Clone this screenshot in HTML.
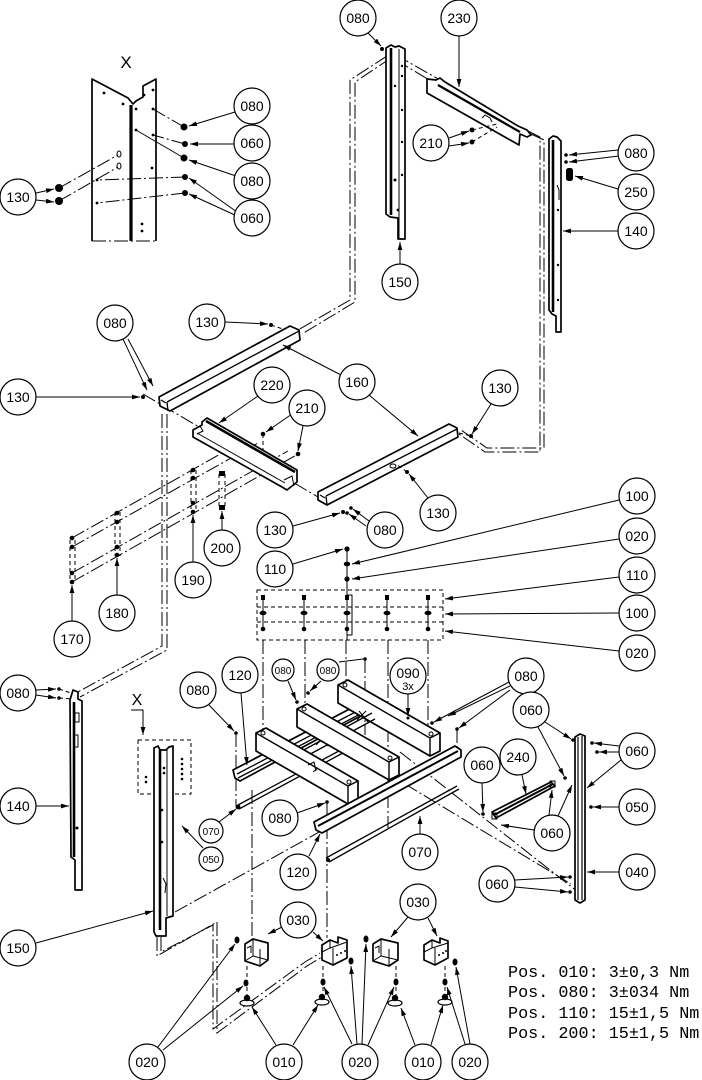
<!DOCTYPE html>
<html><head><meta charset="utf-8">
<style>
html,body{margin:0;padding:0;background:#fff}
svg{display:block}
.l{stroke:#000;stroke-width:1;fill:none;marker-end:url(#a)}
.t{stroke:#000;stroke-width:1;fill:none}
.dd{stroke:#000;stroke-width:1;fill:none;stroke-dasharray:14 3 2 3}
.ds{stroke:#000;stroke-width:1;fill:none;stroke-dasharray:4 3}
.p{stroke:#000;stroke-width:1.7;fill:#fff;stroke-linejoin:round}
.k{stroke:#000;stroke-width:2.6;fill:none}
.b{fill:#fff;stroke:#000;stroke-width:1.2}
.f{fill:#000;stroke:none}
text{font-family:"Liberation Sans",sans-serif;font-size:14px;text-anchor:middle;fill:#000}
.s{font-size:10px}
.m{font-family:"Liberation Mono",monospace;font-size:16.8px;text-anchor:start}
</style></head><body>
<svg xmlns="http://www.w3.org/2000/svg" width="702" height="1080" viewBox="0 0 702 1080">
<defs>
<marker id="a" viewBox="0 0 10 6" refX="10" refY="3" markerWidth="8" markerHeight="5" orient="auto" markerUnits="userSpaceOnUse"><path d="M0,0 L10,3 L0,6z" fill="#000"/></marker>
</defs>
<rect width="702" height="1080" fill="#fff"/>

<!-- ===== TOP-LEFT DETAIL X ===== -->
<text x="126" y="68" style="font-size:17px">X</text>
<path class="p" d="M92,241 V79 L128,98 L133,104 L136,101 L143,97 L143,86 L156,79 V241" style="fill:#fff"/>
<line class="k" x1="131" y1="105" x2="131" y2="241" style="stroke-width:3.2"/>
<line class="dd" x1="92" y1="241" x2="156" y2="241"/>
<g class="f">
<circle cx="104" cy="93" r="1.4"/><circle cx="123" cy="104" r="1.4"/><circle cx="153" cy="90" r="1.4"/><circle cx="144" cy="95" r="1.4"/>
<circle cx="153" cy="109" r="1.4"/><circle cx="136" cy="109" r="1.4"/><circle cx="153" cy="135" r="1.4"/><circle cx="136" cy="130" r="1.4"/>
<circle cx="152" cy="168" r="1.4"/><circle cx="142" cy="224" r="1.4"/><circle cx="142" cy="231" r="1.4"/><circle cx="97" cy="180" r="1.4"/><circle cx="97" cy="203" r="1.4"/>
</g>
<ellipse cx="119" cy="154" rx="2" ry="3" class="t"/><ellipse cx="119" cy="166" rx="2" ry="3" class="t"/>
<line class="dd" x1="184" y1="127" x2="153" y2="109"/>
<line class="dd" x1="185" y1="144" x2="153" y2="135"/>
<line class="t" x1="184" y1="158" x2="136" y2="130"/>
<line class="dd" x1="185" y1="177" x2="97" y2="180"/>
<line class="dd" x1="185" y1="193" x2="97" y2="203"/>
<line class="dd" x1="59" y1="188" x2="118" y2="155"/>
<line class="dd" x1="59" y1="201" x2="118" y2="167"/>
<g class="f">
<circle cx="184" cy="127" r="3.5"/><circle cx="185" cy="144" r="3"/><circle cx="184" cy="158" r="3.5"/><circle cx="185" cy="177" r="3"/><circle cx="185" cy="193" r="3"/>
<ellipse cx="59" cy="188" rx="4" ry="4"/><ellipse cx="59" cy="201" rx="4" ry="4"/>
</g>
<line class="l" x1="235" y1="112" x2="189" y2="126"/>
<line class="l" x1="234" y1="144" x2="190" y2="144"/>
<line class="l" x1="236" y1="176" x2="189" y2="160"/>
<line class="l" x1="237" y1="212" x2="189" y2="178"/>
<line class="l" x1="237" y1="216" x2="189" y2="194"/>
<line class="l" x1="36" y1="193" x2="54" y2="189"/>
<line class="l" x1="36" y1="200" x2="54" y2="202"/>

<!-- ===== TOP-RIGHT ===== -->
<path class="dd" d="M387,56 L350,80 L350,300 L298,330"/>
<path class="dd" d="M391,58 L355,82 L355,302 L302,334"/>
<path class="dd" d="M396,55 L440,80"/>
<path class="dd" d="M396,60 L436,84"/>
<path class="dd" d="M528,131 L540,137 L540,452 L485,452 L459,434"/>
<path class="dd" d="M531,134 L544,140 L544,448 L487,448 L461,430"/>
<path class="p" d="M386,48 L391,45 L395,47 L399,46 L405,49 L405,239 L398,239 L398,218 L390,217 L386,214 Z"/>
<line class="k" x1="391" y1="48" x2="391" y2="215"/>
<line class="t" x1="399" y1="49" x2="399" y2="238"/>
<g class="f"><circle cx="402" cy="66" r="1.2"/><circle cx="402" cy="76" r="1.2"/><circle cx="402" cy="110" r="1.2"/><circle cx="402" cy="142" r="1.2"/><circle cx="402" cy="175" r="1.2"/><circle cx="398" cy="210" r="1.4"/><circle cx="395" cy="86" r="1.2"/><circle cx="395" cy="180" r="1.5"/></g>
<circle class="f" cx="382" cy="49" r="2"/>
<path class="p" d="M427,79 L436,80 L440,78 L445,82 L518,126 L527,130 L531,135 L527,137 L520,134 L519,145 L427,93 Z"/>
<line class="k" x1="438" y1="85" x2="520" y2="132" style="stroke-width:2.2"/>
<path class="t" d="M482,118 L485,115 L490,118 L492,122"/>
<line class="ds" x1="472" y1="130" x2="497" y2="124"/>
<line class="ds" x1="472" y1="142" x2="497" y2="127"/>
<circle class="f" cx="472" cy="130" r="2.5"/><circle class="f" cx="472" cy="142" r="2.5"/>
<path class="p" d="M549,139 L553,136 L557,137 L561,141 L561,332 L556,332 L556,316 L552,314 L549,310 Z"/>
<line class="k" x1="553" y1="140" x2="553" y2="312"/>
<path class="t" d="M557,185 L559,190 L559,200"/>
<g class="f"><circle cx="558" cy="210" r="1.2"/><circle cx="558" cy="265" r="1.2"/><circle cx="558" cy="300" r="1.2"/><circle cx="566" cy="155" r="1.8"/><circle cx="566" cy="162" r="1.8"/></g>
<rect x="566" y="168" width="7" height="13" rx="2.5" class="f"/>
<line class="l" x1="368" y1="33" x2="381" y2="46"/>
<line class="l" x1="459" y1="36" x2="459" y2="87"/>
<line class="l" x1="449" y1="138" x2="469" y2="131"/>
<line class="l" x1="449" y1="146" x2="469" y2="143"/>
<line class="l" x1="618" y1="150" x2="569" y2="155"/>
<line class="l" x1="619" y1="156" x2="569" y2="162"/>
<line class="l" x1="618" y1="189" x2="575" y2="176"/>
<line class="l" x1="618" y1="231" x2="563" y2="231"/>
<line class="l" x1="400" y1="264" x2="400" y2="242"/>

<!-- ===== MIDDLE ===== -->
<line class="dd" x1="143" y1="394" x2="318" y2="497"/>
<path class="dd" d="M162,414 L162,646 L76,693"/>
<path class="dd" d="M167,414 L167,650 L80,697"/>
<line class="ds" x1="271" y1="325" x2="292" y2="332"/>
<line class="dd" x1="72" y1="538" x2="245" y2="440"/>
<line class="dd" x1="72" y1="547" x2="258" y2="443"/>
<line class="dd" x1="72" y1="573" x2="288" y2="451"/>
<line class="dd" x1="72" y1="582" x2="300" y2="453"/>
<g class="ds">
<line x1="70" y1="540" x2="70" y2="582"/><line x1="75" y1="540" x2="75" y2="582"/>
<line x1="115" y1="512" x2="115" y2="556"/><line x1="120" y1="512" x2="120" y2="556"/>
<line x1="191" y1="470" x2="191" y2="512"/><line x1="196" y1="470" x2="196" y2="512"/>
<line x1="219" y1="474" x2="219" y2="507"/><line x1="225" y1="474" x2="225" y2="507"/>
<line x1="263" y1="434" x2="263" y2="468"/>
</g>
<g class="f">
<circle cx="72" cy="538" r="2.3"/><circle cx="72" cy="547" r="2.3"/><circle cx="72" cy="573" r="2.3"/><circle cx="72" cy="582" r="2.3"/>
<circle cx="117" cy="513" r="2.3"/><circle cx="117" cy="522" r="2.3"/><circle cx="117" cy="547" r="2.3"/><circle cx="117" cy="555" r="2.3"/>
<circle cx="193" cy="470" r="2.3"/><circle cx="193" cy="478" r="2.3"/><circle cx="193" cy="503" r="2.3"/><circle cx="193" cy="512" r="2.3"/>
<rect x="219" y="471" width="6" height="5"/><rect x="219" y="505" width="6" height="5"/>
<circle cx="263" cy="434" r="2.3"/><circle cx="298" cy="454" r="2.3"/>
<circle cx="143" cy="397" r="2"/><circle cx="271" cy="325" r="2"/><circle cx="471" cy="436" r="2"/><circle cx="407" cy="472" r="2"/>
<circle cx="343" cy="512" r="2"/><circle cx="351" cy="508" r="1.8"/><circle cx="347" cy="513" r="1.8"/>
</g>
<path class="p" d="M159,397 L290,326 L299,330 L300,340 L170,411 L160,406 Z"/>
<path class="t" d="M167,402 L299,331 M167,402 L168,411 M161,400 L166,403" style="stroke-width:1.3"/>
<path class="p" d="M202,422 L207,418 L297,470 L297,482 L287,490 L282,487 L193,437 L193,430 L202,425 Z"/>
<line class="k" x1="206" y1="421" x2="295" y2="472"/>
<path class="t" d="M197,433 L285,483 M193,430 L200,426 L203,431 L197,434 M284,480 L292,476 L294,486"/>
<path class="p" d="M318,492 L449,424 L457,428 L458,437 L327,505 L318,500 Z"/>
<path class="t" d="M326,496 L457,429 M326,496 L327,505 M320,495 L325,498" style="stroke-width:1.3"/>
<ellipse cx="393" cy="466" rx="3" ry="2" class="t"/>
<line class="ds" x1="459" y1="433" x2="471" y2="436"/>
<line class="ds" x1="407" y1="472" x2="396" y2="464"/>
<line class="l" x1="123" y1="339" x2="147" y2="390"/>
<line class="l" x1="128" y1="339" x2="153" y2="386"/>
<line class="l" x1="225" y1="322" x2="268" y2="324"/>
<line class="l" x1="36" y1="397" x2="140" y2="397"/>
<line class="l" x1="341" y1="375" x2="283" y2="345"/>
<line class="l" x1="369" y1="395" x2="418" y2="436"/>
<line class="l" x1="258" y1="396" x2="219" y2="423"/>
<line class="l" x1="292" y1="414" x2="266" y2="432"/>
<line class="l" x1="303" y1="426" x2="298" y2="451"/>
<line class="l" x1="491" y1="404" x2="472" y2="434"/>
<line class="l" x1="428" y1="498" x2="409" y2="474"/>
<line class="l" x1="369" y1="521" x2="353" y2="509"/>
<line class="l" x1="366" y1="526" x2="349" y2="514"/>
<line class="l" x1="293" y1="526" x2="340" y2="513"/>
<line class="l" x1="193" y1="562" x2="193" y2="515"/>
<line class="l" x1="222" y1="530" x2="222" y2="511"/>
<line class="l" x1="117" y1="595" x2="117" y2="558"/>
<line class="l" x1="72" y1="621" x2="72" y2="585"/>

<line class="t" x1="347" y1="549" x2="347" y2="640"/>
<rect x="347" y="595" width="5" height="40" class="t"/>
<g class="f"><circle cx="347" cy="549" r="2.6"/><ellipse cx="347" cy="564" rx="3.2" ry="2.4"/><circle cx="347" cy="579" r="2.6"/></g>
<path class="ds" d="M257,590 H443 V640 H257 Z M257,607 H443 M257,622 H443"/>
<g>
<g class="t"><line x1="263" y1="598" x2="263" y2="629"/><line x1="304" y1="598" x2="304" y2="629"/><line x1="387" y1="598" x2="387" y2="629"/><line x1="428" y1="598" x2="428" y2="629"/></g>
<g class="f">
<rect x="261" y="595" width="4" height="5"/><ellipse cx="263" cy="613" rx="3.5" ry="2.2"/><circle cx="263" cy="629" r="2.3"/>
<rect x="302" y="595" width="4" height="5"/><ellipse cx="304" cy="613" rx="3.5" ry="2.2"/><circle cx="304" cy="629" r="2.3"/>
<rect x="345" y="595" width="4" height="5"/><ellipse cx="347" cy="613" rx="3.5" ry="2.2"/><circle cx="347" cy="629" r="2.3"/>
<rect x="385" y="595" width="4" height="5"/><ellipse cx="387" cy="613" rx="3.5" ry="2.2"/><circle cx="387" cy="629" r="2.3"/>
<rect x="426" y="595" width="4" height="5"/><ellipse cx="428" cy="613" rx="3.5" ry="2.2"/><circle cx="428" cy="629" r="2.3"/>
</g></g>
<line class="l" x1="293" y1="564" x2="343" y2="549"/>
<line class="l" x1="619" y1="500" x2="352" y2="564"/>
<line class="l" x1="619" y1="539" x2="352" y2="579"/>
<line class="l" x1="619" y1="577" x2="445" y2="599"/>
<line class="l" x1="619" y1="613" x2="445" y2="614"/>
<line class="l" x1="619" y1="651" x2="445" y2="631"/>

<!-- ===== LOWER LEFT ===== -->
<line class="ds" x1="59" y1="689" x2="74" y2="694"/>
<line class="ds" x1="59" y1="698" x2="74" y2="699"/>
<circle class="f" cx="59" cy="689" r="1.8"/><circle class="f" cx="59" cy="698" r="1.8"/>
<line class="l" x1="36" y1="690" x2="56" y2="689"/>
<line class="l" x1="36" y1="695" x2="56" y2="698"/>
<path class="p" d="M70,700 L73,690 L78,692 L78,699 L82,701 L82,890 L75,890 L75,860 L71,857 Z"/>
<line class="k" x1="74" y1="702" x2="74" y2="857"/>
<rect x="75" y="713" width="4" height="9" class="t"/><rect x="74" y="735" width="4" height="12" class="t"/>
<circle class="f" cx="77" cy="828" r="1.5"/>
<line class="l" x1="36" y1="806" x2="69" y2="806"/>
<text x="137" y="705" style="font-size:16px">X</text>
<path class="t" d="M131,710 H143 V735" style="marker-end:url(#a)"/>
<rect x="138" y="740" width="53" height="54" class="ds"/>
<line class="dd" x1="175" y1="912" x2="330" y2="826"/>
<path class="dd" d="M157,937 V956 L217,922 V1033 L307,966 L322,957"/>
<path class="dd" d="M161,937 V952 L213,925 V1029 L305,962 L320,953"/>
<path class="p" d="M154,748 L158,746 L160,750 L166,750 L169,747 L173,746 L173,916 L166,918 L166,936 L156,936 L154,932 Z"/>
<line class="k" x1="160" y1="750" x2="160" y2="930"/>
<line class="t" x1="167" y1="750" x2="167" y2="916"/>
<g class="f"><circle cx="146" cy="777" r="1.3"/><circle cx="146" cy="782" r="1.3"/><circle cx="182" cy="759" r="1.3"/><circle cx="182" cy="764" r="1.3"/><circle cx="182" cy="769" r="1.3"/><circle cx="182" cy="774" r="1.3"/><circle cx="182" cy="779" r="1.3"/><circle cx="164" cy="768" r="1.3"/><circle cx="164" cy="773" r="1.3"/><circle cx="162" cy="810" r="1.3"/><circle cx="162" cy="842" r="1.3"/></g>
<path class="t" d="M163,878 L166,884 L165,893"/>
<line class="l" x1="36" y1="943" x2="153" y2="911"/>

<!-- ===== LOWER ASSEMBLY ===== -->
<g class="dd">
<line x1="263" y1="640" x2="263" y2="768"/>
<line x1="305" y1="640" x2="305" y2="712"/>
<line x1="346" y1="640" x2="346" y2="690"/>
<line x1="388" y1="640" x2="388" y2="828"/>
<line x1="428" y1="640" x2="428" y2="725"/>
<line x1="252" y1="790" x2="252" y2="940"/>
<line x1="327" y1="803" x2="327" y2="938"/>
<line x1="236" y1="733" x2="236" y2="806"/>
<line x1="365" y1="659" x2="365" y2="735"/>
<line x1="457" y1="729" x2="457" y2="752"/>
<line x1="400" y1="752" x2="578" y2="892"/>
<line x1="405" y1="784" x2="571" y2="884"/>
</g>
<path class="p" d="M233,770 L363,702 L368,706 L368,712 L240,781 L235,778 Z"/>
<path class="t" d="M237,774 L365,707 M238,778 L368,710" style="stroke-width:1.3"/>
<path class="t" d="M238,805 L352,744 M239,809 L354,747" style="stroke-width:1.3"/>
<circle class="f" cx="238" cy="807" r="2.4"/>
<path class="p" d="M348,680 L440,733 L440,751 L430,756 L338,703 L338,685 Z"/>
<path class="t" d="M338,685 L430,738 L430,756 M430,738 L440,733" style="stroke-width:1.4"/>
<circle class="t" cx="345" cy="685" r="2"/><circle class="t" cx="431" cy="734" r="2"/>
<path class="t" d="M300,752 L372,713 M303,758 L375,719" style="stroke-width:1.3"/>
<path class="t" d="M316,745 L326,735 M318,735 L328,746 M357,720 L366,711 M359,711 L368,722"/>
<path class="p" d="M307,704 L399,757 L399,775 L389,780 L297,727 L297,709 Z"/>
<path class="t" d="M297,709 L389,762 L389,780 M389,762 L399,757" style="stroke-width:1.4"/>
<circle class="t" cx="304" cy="709" r="2"/><circle class="t" cx="390" cy="758" r="2"/>
<path class="p" d="M266,728 L358,781 L358,799 L348,804 L256,751 L256,733 Z"/>
<path class="t" d="M256,733 L348,786 L348,804 M348,786 L358,781" style="stroke-width:1.4"/>
<circle class="t" cx="263" cy="733" r="2"/><circle class="t" cx="349" cy="782" r="2"/>
<path class="t" d="M308,765 L314,762 L316,771 M313,772 L318,768"/>
<path class="p" d="M314,822 L455,746 L461,750 L461,757 L322,833 L316,830 Z"/>
<line class="k" x1="318" y1="826" x2="458" y2="751" style="stroke-width:2"/>
<path class="t" d="M326,858 L457,786 M329,862 L459,789" style="stroke-width:1.3"/>
<circle class="f" cx="328" cy="860" r="2"/>
<path class="p" d="M492,812 L551,782 L555,786 L496,818 Z"/>
<line class="k" x1="494" y1="815" x2="553" y2="784" style="stroke-width:2"/>
<rect x="492" y="813" width="5" height="6" class="t"/><rect x="550" y="781" width="5" height="6" class="t"/>
<path class="p" d="M575,737 L580,734 L585,736 L585,900 L580,903 L575,900 Z"/>
<path class="t" d="M578,737 V900 M582,736 V900" style="stroke-width:1.2"/>
<g class="f">
<circle cx="297" cy="702" r="1.8"/><circle cx="308" cy="693" r="1.8"/><circle cx="365" cy="659" r="1.8"/><circle cx="236" cy="733" r="1.8"/>
<circle cx="327" cy="802" r="1.8"/><circle cx="432" cy="723" r="1.8"/><circle cx="457" cy="729" r="1.8"/>
<circle cx="483" cy="814" r="1.8"/><circle cx="573" cy="740" r="1.8"/><circle cx="565" cy="778" r="1.8"/>
<circle cx="592" cy="743" r="1.8"/><circle cx="597" cy="752" r="1.8"/><circle cx="591" cy="807" r="1.8"/><circle cx="570" cy="877" r="1.8"/><circle cx="570" cy="892" r="1.8"/>
<circle cx="408" cy="718" r="1.5"/>
</g>
<line class="l" x1="288" y1="681" x2="296" y2="700"/>
<line class="l" x1="321" y1="681" x2="310" y2="691"/>
<line class="t" x1="339" y1="662" x2="363" y2="659"/>
<line class="l" x1="408" y1="694" x2="408" y2="716"/>
<line class="l" x1="241" y1="693" x2="247" y2="765"/>
<line class="l" x1="209" y1="705" x2="234" y2="731"/>
<line class="l" x1="297" y1="813" x2="325" y2="803"/>
<line class="l" x1="309" y1="856" x2="320" y2="834"/>
<line class="l" x1="420" y1="834" x2="420" y2="816"/>
<line class="l" x1="219" y1="822" x2="236" y2="809"/>
<line class="l" x1="203" y1="848" x2="182" y2="826"/>
<line class="l" x1="509" y1="682" x2="434" y2="722"/>
<line class="l" x1="510" y1="686" x2="448" y2="716"/>
<line class="l" x1="510" y1="690" x2="459" y2="728"/>
<line class="l" x1="545" y1="722" x2="571" y2="739"/>
<line class="l" x1="538" y1="727" x2="564" y2="776"/>
<line class="l" x1="482" y1="783" x2="483" y2="812"/>
<line class="l" x1="522" y1="775" x2="526" y2="794"/>
<line class="l" x1="549" y1="815" x2="552" y2="790"/>
<line class="l" x1="558" y1="816" x2="572" y2="785"/>
<line class="l" x1="534" y1="830" x2="501" y2="825"/>
<line class="l" x1="619" y1="746" x2="594" y2="743"/>
<line class="l" x1="619" y1="752" x2="599" y2="752"/>
<line class="l" x1="621" y1="760" x2="587" y2="788"/>
<line class="l" x1="619" y1="807" x2="593" y2="807"/>
<line class="l" x1="619" y1="872" x2="587" y2="872"/>
<line class="l" x1="515" y1="880" x2="568" y2="877"/>
<line class="l" x1="515" y1="887" x2="568" y2="892"/>

<!-- ===== FEET ===== -->
<g class="ds">
<line x1="247" y1="966" x2="247" y2="996"/><line x1="323" y1="966" x2="323" y2="996"/>
<line x1="396" y1="966" x2="396" y2="996"/><line x1="445" y1="966" x2="445" y2="996"/>
</g>
<path class="p" d="M245,944 L253,939 L268,943 L268,960 L260,966 L245,961 Z"/>
<path class="t" d="M253,939 V956 L245,961 M253,956 L268,960 M260,949 L260,966 M247,948 L251,946 L251,953"/>
<path class="p" d="M322,945 L330,940 L338,943 L338,937 L347,940 L347,958 L333,965 L322,960 Z"/>
<path class="t" d="M330,940 L330,948 L322,952 M330,948 L347,942 M333,948 V965"/>
<g class="f"><circle cx="337" cy="955" r="1"/><circle cx="341" cy="953" r="1"/><circle cx="345" cy="951" r="1"/></g>
<path class="p" d="M373,944 L381,939 L398,943 L398,960 L389,966 L373,961 Z"/>
<path class="t" d="M381,939 V956 L373,961 M381,956 L398,960 M389,949 L389,966 M375,948 L379,946 L379,953"/>
<path class="p" d="M424,945 L432,940 L440,943 L440,938 L448,941 L448,958 L435,965 L424,960 Z"/>
<path class="t" d="M432,940 L432,948 L424,952 M432,948 L448,943 M435,948 V965"/>
<g class="f"><circle cx="439" cy="955" r="1"/><circle cx="443" cy="953" r="1"/><circle cx="446" cy="951" r="1"/></g>
<g>
<ellipse cx="247" cy="1003" rx="7" ry="3" class="b"/><circle class="f" cx="247" cy="998" r="3.2"/>
<ellipse cx="322" cy="1002" rx="7" ry="3" class="b"/><circle class="f" cx="322" cy="997" r="3.2"/>
<ellipse cx="395" cy="1003" rx="7" ry="3" class="b"/><circle class="f" cx="395" cy="998" r="3.2"/>
<ellipse cx="445" cy="1002" rx="7" ry="3" class="b"/><circle class="f" cx="445" cy="997" r="3.2"/>
</g>
<g class="f">
<ellipse cx="237" cy="940" rx="2.5" ry="3.5"/><ellipse cx="246" cy="983" rx="2.5" ry="3.5"/><ellipse cx="323" cy="982" rx="2.5" ry="3.5"/>
<ellipse cx="351" cy="961" rx="2.5" ry="3.5"/><ellipse cx="366" cy="939" rx="2.5" ry="3.5"/><ellipse cx="396" cy="982" rx="2.5" ry="3.5"/>
<ellipse cx="445" cy="982" rx="2.5" ry="3.5"/><ellipse cx="455" cy="962" rx="2.5" ry="3.5"/>
</g>
<line class="l" x1="282" y1="927" x2="268" y2="934"/>
<line class="l" x1="313" y1="932" x2="323" y2="941"/>
<line class="l" x1="408" y1="917" x2="391" y2="937"/>
<line class="l" x1="428" y1="918" x2="437" y2="936"/>
<line class="l" x1="158" y1="1047" x2="235" y2="944"/>
<line class="l" x1="163" y1="1050" x2="243" y2="986"/>
<line class="l" x1="276" y1="1045" x2="252" y2="1007"/>
<line class="l" x1="293" y1="1045" x2="318" y2="1005"/>
<line class="l" x1="352" y1="1044" x2="324" y2="987"/>
<line class="l" x1="357" y1="1044" x2="351" y2="966"/>
<line class="l" x1="362" y1="1044" x2="366" y2="944"/>
<line class="l" x1="368" y1="1045" x2="394" y2="987"/>
<line class="l" x1="415" y1="1045" x2="401" y2="1008"/>
<line class="l" x1="431" y1="1045" x2="443" y2="1005"/>
<line class="l" x1="465" y1="1044" x2="447" y2="987"/>
<line class="l" x1="470" y1="1044" x2="456" y2="967"/>

<!-- ===== BALLOONS ===== -->
<g>
<circle class="b" cx="252" cy="106" r="18"/><text x="252" y="111">080</text>
<circle class="b" cx="252" cy="143" r="18"/><text x="252" y="148">060</text>
<circle class="b" cx="252" cy="181" r="18"/><text x="252" y="186">080</text>
<circle class="b" cx="252" cy="218" r="18"/><text x="252" y="223">060</text>
<circle class="b" cx="18" cy="197" r="18"/><text x="18" y="202">130</text>
<circle class="b" cx="358" cy="18" r="18"/><text x="358" y="23">080</text>
<circle class="b" cx="459" cy="18" r="18"/><text x="459" y="23">230</text>
<circle class="b" cx="431" cy="143" r="18"/><text x="431" y="148">210</text>
<circle class="b" cx="636" cy="153" r="18"/><text x="636" y="158">080</text>
<circle class="b" cx="636" cy="192" r="18"/><text x="636" y="197">250</text>
<circle class="b" cx="636" cy="231" r="18"/><text x="636" y="236">140</text>
<circle class="b" cx="400" cy="282" r="18"/><text x="400" y="287">150</text>

<circle class="b" cx="115" cy="323" r="18"/><text x="115" y="328">080</text>
<circle class="b" cx="207" cy="322" r="18"/><text x="207" y="327">130</text>
<circle class="b" cx="18" cy="397" r="18"/><text x="18" y="402">130</text>
<circle class="b" cx="357" cy="382" r="18"/><text x="357" y="387">160</text>
<circle class="b" cx="272" cy="385" r="18"/><text x="272" y="390">220</text>
<circle class="b" cx="307" cy="408" r="18"/><text x="307" y="413">210</text>
<circle class="b" cx="500" cy="388" r="18"/><text x="500" y="393">130</text>
<circle class="b" cx="438" cy="513" r="18"/><text x="438" y="518">130</text>
<circle class="b" cx="385" cy="530" r="18"/><text x="385" y="535">080</text>
<circle class="b" cx="275" cy="530" r="18"/><text x="275" y="535">130</text>
<circle class="b" cx="275" cy="569" r="18"/><text x="275" y="574">110</text>
<circle class="b" cx="222" cy="548" r="18"/><text x="222" y="553">200</text>
<circle class="b" cx="193" cy="580" r="18"/><text x="193" y="585">190</text>
<circle class="b" cx="117" cy="613" r="18"/><text x="117" y="618">180</text>
<circle class="b" cx="72" cy="639" r="18"/><text x="72" y="644">170</text>
<circle class="b" cx="637" cy="496" r="18"/><text x="637" y="501">100</text>
<circle class="b" cx="637" cy="536" r="18"/><text x="637" y="541">020</text>
<circle class="b" cx="637" cy="575" r="18"/><text x="637" y="580">110</text>
<circle class="b" cx="637" cy="613" r="18"/><text x="637" y="618">100</text>
<circle class="b" cx="637" cy="653" r="18"/><text x="637" y="658">020</text>

<circle class="b" cx="18" cy="693" r="18"/><text x="18" y="698">080</text>
<circle class="b" cx="18" cy="806" r="18"/><text x="18" y="811">140</text>
<circle class="b" cx="18" cy="948" r="18"/><text x="18" y="953">150</text>
<circle class="b" cx="240" cy="675" r="18"/><text x="240" y="680">120</text>
<circle class="b" cx="198" cy="690" r="18"/><text x="198" y="695">080</text>
<circle class="b" cx="280" cy="818" r="18"/><text x="280" y="823">080</text>
<circle class="b" cx="298" cy="872" r="18"/><text x="298" y="877">120</text>
<circle class="b" cx="420" cy="852" r="18"/><text x="420" y="857">070</text>
<circle class="b" cx="526" cy="676" r="18"/><text x="526" y="681">080</text>
<circle class="b" cx="531" cy="710" r="18"/><text x="531" y="715">060</text>
<circle class="b" cx="482" cy="765" r="18"/><text x="482" y="770">060</text>
<circle class="b" cx="518" cy="757" r="18"/><text x="518" y="762">240</text>
<circle class="b" cx="552" cy="833" r="18"/><text x="552" y="838">060</text>
<circle class="b" cx="637" cy="751" r="18"/><text x="637" y="756">060</text>
<circle class="b" cx="637" cy="807" r="18"/><text x="637" y="812">050</text>
<circle class="b" cx="637" cy="872" r="18"/><text x="637" y="877">040</text>
<circle class="b" cx="497" cy="884" r="18"/><text x="497" y="889">060</text>
<circle class="b" cx="408" cy="676" r="18"/><text x="408" y="678">090</text><text x="408" y="690" style="font-size:11px">3x</text>

<circle class="b" cx="298" cy="920" r="18"/><text x="298" y="925">030</text>
<circle class="b" cx="418" cy="902" r="18"/><text x="418" y="907">030</text>
<circle class="b" cx="147" cy="1062" r="18"/><text x="147" y="1067">020</text>
<circle class="b" cx="284" cy="1062" r="18"/><text x="284" y="1067">010</text>
<circle class="b" cx="360" cy="1062" r="18"/><text x="360" y="1067">020</text>
<circle class="b" cx="423" cy="1062" r="18"/><text x="423" y="1067">010</text>
<circle class="b" cx="470" cy="1062" r="18"/><text x="470" y="1067">020</text>

<circle class="b" cx="283" cy="670" r="11"/><text class="s" x="283" y="674">080</text>
<circle class="b" cx="328" cy="670" r="11"/><text class="s" x="328" y="674">080</text>
<circle class="b" cx="211" cy="831" r="12"/><text class="s" x="211" y="835">070</text>
<circle class="b" cx="211" cy="859" r="12"/><text class="s" x="211" y="863">050</text>
</g>

<text class="m" x="508" y="977">Pos. 010: 3±0,3 Nm</text>
<text class="m" x="508" y="997">Pos. 080: 3±034 Nm</text>
<text class="m" x="508" y="1018">Pos. 110: 15±1,5 Nm</text>
<text class="m" x="508" y="1038">Pos. 200: 15±1,5 Nm</text>
</svg>
</body></html>
